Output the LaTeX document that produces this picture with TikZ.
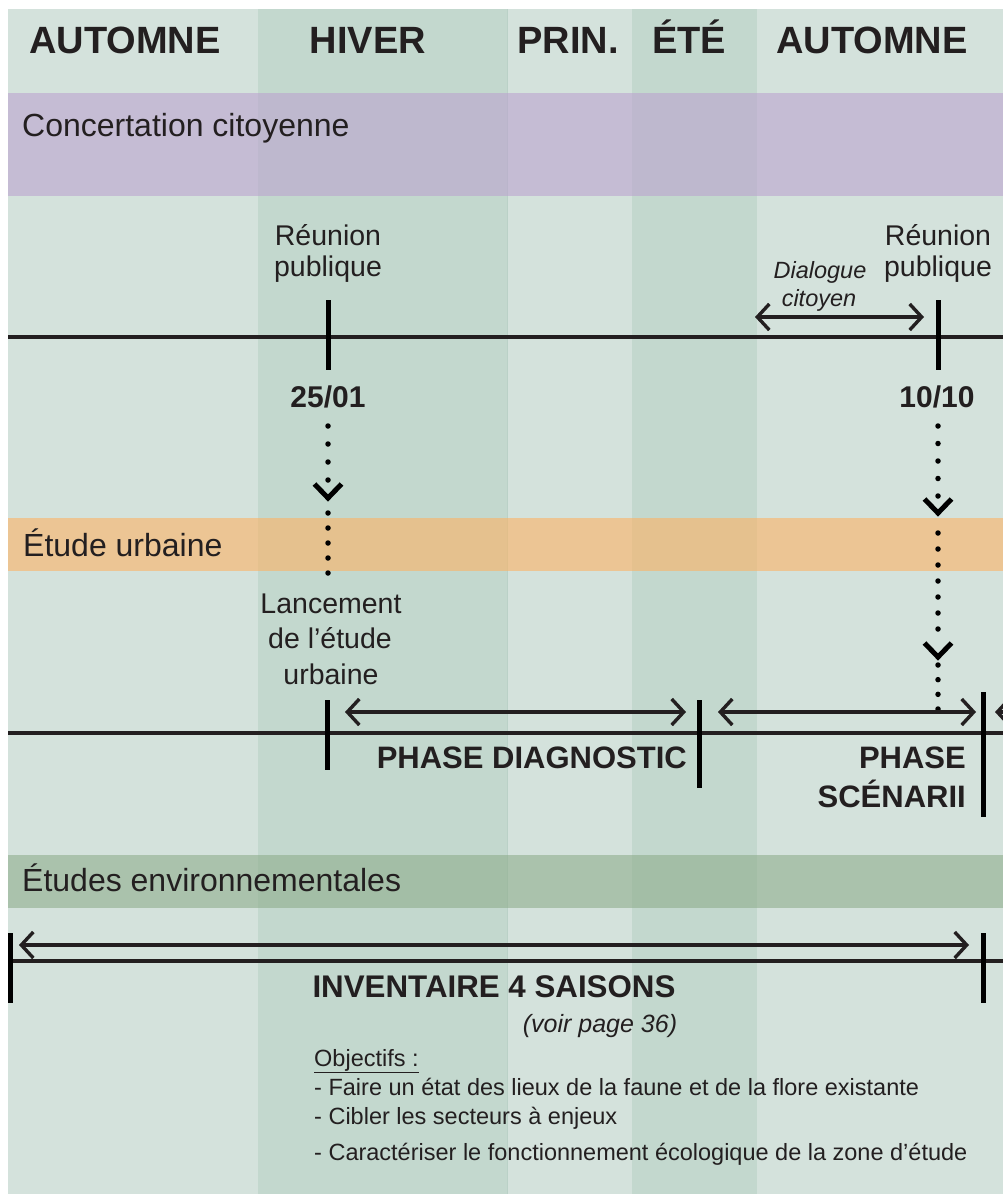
\documentclass[tikz,border=0pt]{standalone}
\usepackage{fontspec}
\setmainfont{Liberation Sans}
\usetikzlibrary{arrows.meta,calc}
\definecolor{bglight}{RGB}{212,226,220}
\definecolor{bgdark}{RGB}{195,216,206}
\definecolor{bandpurple}{RGB}{187,163,207}
\definecolor{bandorange}{RGB}{252,179,100}
\definecolor{bandgreen}{RGB}{142,173,140}
\definecolor{ink}{RGB}{35,31,32}
\newcommand\fsz[1]{\fontsize{#1}{#1}\selectfont}
\begin{document}
\begin{tikzpicture}[x=1pt,y=-1pt,
  every node/.style={inner sep=0pt,text=ink},
  hdr/.style={font=\fsz{38}\bfseries,anchor=base},
  bandlbl/.style={font=\fsz{32},anchor=base west},
  lbl/.style={font=\fsz{28.5},anchor=base},
  datelbl/.style={font=\fsz{30}\bfseries,anchor=base},
  phaselbl/.style={font=\fsz{31}\bfseries,anchor=base east},
  smallit/.style={font=\fsz{23.5}\itshape,anchor=base},
  objlbl/.style={font=\fsz{23.5},anchor=base west},
  timeline/.style={draw=ink,line width=3.6pt},
  tickmark/.style={draw=black,line width=5pt},
  dblarrow/.style={draw=ink,line width=3.4pt,
     {Straight Barb[length=12pt,width=26pt]}-{Straight Barb[length=12pt,width=26pt]}},
  onearrow/.style={draw=ink,line width=3.4pt,-{Straight Barb[length=12pt,width=26pt]}},
  dotline/.style={draw=black,line width=5.5pt,line cap=round},
  chevron/.style={draw=black,line width=5pt,miter limit=10}
]
\useasboundingbox (0,0) rectangle (1003,1194);
\begin{scope}
\clip (8,9) rectangle (1003,1194);
% season columns
\fill[bglight] (8,9) rectangle (258,1194);
\fill[bgdark] (258,9) rectangle (507,1194);
\fill[bglight] (507,9) rectangle (632,1194);
\fill[bgdark] (632,9) rectangle (757,1194);
\fill[bglight] (757,9) rectangle (1003,1194);
\draw[draw={rgb,255:red,186;green,209;blue,199},line width=1.5pt] (507.5,9) -- (507.5,1194);
% bands
\fill[bandpurple,fill opacity=0.6] (8,93) rectangle (1003,196);
\fill[bandorange,fill opacity=0.6] (8,518) rectangle (1003,571);
\fill[bandgreen,fill opacity=0.6] (8,855) rectangle (1003,908);

% header
\node[hdr] (hAut1) at (125,53) {AUTOMNE};
\node[hdr] (hHiv) at (368,53) {HIVER};
\node[hdr] (hPrin) at (568,53) {PRIN.};
\node[hdr] (hEte) at (689,53) {ÉTÉ};
\node[hdr] (hAut2) at (872,53) {AUTOMNE};

% band labels
\node[bandlbl] (bConc) at (22,136) {Concertation citoyenne};
\node[bandlbl] (bUrb) at (23,556) {Étude urbaine};
\node[bandlbl] (bEnv) at (22,891) {Études environnementales};

% ---- timeline 1 : concertation
\coordinate (t1L) at (8,337);
\coordinate (t1R) at (1003,337);
\draw[timeline] (t1L) -- (t1R);
\coordinate (r1top) at (328,300); \coordinate (r1bot) at (328,370);
\coordinate (r2top) at (938,300); \coordinate (r2bot) at (938,370);
\draw[tickmark] (r1top) -- (r1bot);
\draw[tickmark] (r2top) -- (r2bot);
\node[lbl] (reu1a) at (328,245) {Réunion};
\node[lbl] (reu1b) at (328,276) {publique};
\node[lbl] (reu2a) at (938,245) {Réunion};
\node[lbl] (reu2b) at (938,276) {publique};
\node[smallit] (dia1) at (820,278) {Dialogue};
\node[smallit] (dia2) at (819,306) {citoyen};
\coordinate (dL) at (755,317); \coordinate (dR) at (924,317);
\draw[dblarrow] (dL) -- (dR);
\node[datelbl] (d1) at (328,407) {25/01};
\node[datelbl] (d2) at (937,407) {10/10};

% ---- dotted links
\coordinate (l1a) at (328,426); \coordinate (l1b) at (328,480.5);
\coordinate (l1c) at (328,498);
\coordinate (l1d) at (328,513); \coordinate (l1e) at (328,573.5);
\draw[dotline,dash pattern=on 0pt off 18pt] (l1a) -- (l1b);
\draw[chevron] ($(l1c)+(-13.5,-14)$) -- (l1c) -- ($(l1c)+(13.5,-14)$);
\draw[dotline,dash pattern=on 0pt off 15pt] (l1d) -- (l1e);

\coordinate (l2a) at (938,426); \coordinate (l2b) at (938,496.5);
\coordinate (l2c) at (938,513);
\coordinate (l2d) at (938,533); \coordinate (l2e) at (938,629.5);
\coordinate (l2f) at (938,657);
\coordinate (l2g) at (938,665); \coordinate (l2h) at (938,709.5);
\draw[dotline,dash pattern=on 0pt off 17.5pt] (l2a) -- (l2b);
\draw[chevron] ($(l2c)+(-13.5,-14)$) -- (l2c) -- ($(l2c)+(13.5,-14)$);
\draw[dotline,dash pattern=on 0pt off 16pt] (l2d) -- (l2e);
\draw[chevron] ($(l2f)+(-13.5,-14)$) -- (l2f) -- ($(l2f)+(13.5,-14)$);
\draw[dotline,dash pattern=on 0pt off 14.67pt] (l2g) -- (l2h);

% ---- timeline 2 : etude urbaine
\node[lbl] (lan1) at (331,613) {Lancement};
\node[lbl] (lan2) at (330,648) {de l’étude};
\node[lbl] (lan3) at (331,684) {urbaine};
\coordinate (t2L) at (8,733);
\coordinate (t2R) at (1003,733);
\draw[timeline] (t2L) -- (t2R);
\coordinate (k1top) at (327,700); \coordinate (k1bot) at (327,770);
\coordinate (k2top) at (699,700); \coordinate (k2bot) at (699,788);
\coordinate (k3top) at (983,692); \coordinate (k3bot) at (983,817);
\draw[tickmark] (k1top) -- (k1bot);
\draw[tickmark] (k2top) -- (k2bot);
\draw[tickmark] (k3top) -- (k3bot);
\coordinate (pdL) at (345,712); \coordinate (pdR) at (686,712);
\coordinate (psL) at (718,712); \coordinate (psR) at (976,712);
\coordinate (pnL) at (1040,712); \coordinate (pnR) at (995,712);
\draw[dblarrow] (pdL) -- (pdR);
\draw[dblarrow] (psL) -- (psR);
\draw[onearrow] (pnL) -- (pnR);
\node[phaselbl] (phD) at (687,768) {PHASE DIAGNOSTIC};
\node[phaselbl] (phS1) at (966,768) {PHASE};
\node[phaselbl] (phS2) at (966,807) {SCÉNARII};

% ---- timeline 3 : etudes environnementales
\coordinate (t3L) at (8,961);
\coordinate (t3R) at (1003,961);
\draw[timeline] (t3L) -- (t3R);
\coordinate (i1top) at (10,933); \coordinate (i1bot) at (10,1003);
\coordinate (i2top) at (983,933); \coordinate (i2bot) at (983,1003);
\draw[tickmark] (i1top) -- (i1bot);
\draw[tickmark] (i2top) -- (i2bot);
\coordinate (ivL) at (19,945); \coordinate (ivR) at (969,945);
\draw[dblarrow] (ivL) -- (ivR);
\node[font=\fsz{31.3}\bfseries,anchor=base] (inv) at (494,997) {INVENTAIRE 4 SAISONS};
\node[font=\fsz{25}\itshape,anchor=base] (voir) at (600,1032) {(voir page 36)};
\node[objlbl] (obj0) at (314,1066) {\underline{Objectifs :}};
\node[objlbl] (obj1) at (314,1095) {- Faire un état des lieux de la faune et de la flore existante};
\node[objlbl] (obj2) at (314,1124) {- Cibler les secteurs à enjeux};
\node[objlbl] (obj3) at (314,1160) {- Caractériser le fonctionnement écologique de la zone d’étude};
\end{scope}
\end{tikzpicture}
\end{document}
